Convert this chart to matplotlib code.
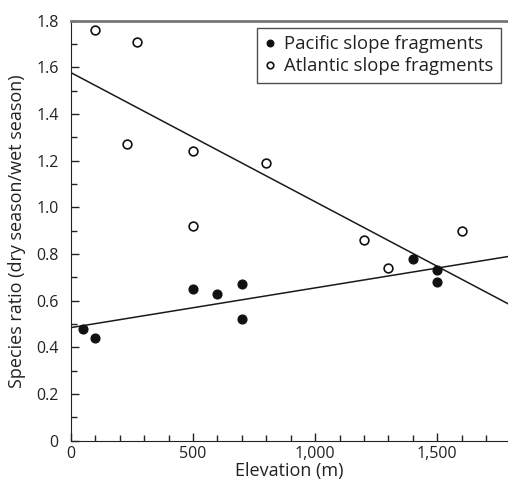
import matplotlib
matplotlib.use("Agg")
import matplotlib.pyplot as plt
import numpy as np
from matplotlib.ticker import MultipleLocator, FuncFormatter

plt.rcParams['font.family'] = ['Open Sans', 'DejaVu Sans']

# Data
pacific_x = [50, 100, 500, 600, 700, 700, 1400, 1500, 1500]
pacific_y = [0.48, 0.44, 0.65, 0.63, 0.67, 0.52, 0.78, 0.73, 0.68]
atlantic_x = [100, 270, 230, 500, 800, 500, 1200, 1300, 1600]
atlantic_y = [1.76, 1.71, 1.27, 1.24, 1.19, 0.92, 0.86, 0.74, 0.90]
# fitted lines: intercept, slope
pacific_fit = (0.485, 0.00017)
atlantic_fit = (1.577, -0.000553)

fig = plt.figure(figsize=(5.08, 4.84), dpi=100)
ax = fig.add_axes([71/508, 1-440.8/484, 1-71/508, (440.8-20.6)/484])

xmax = 1790
ax.set_xlim(0, xmax)
ax.set_ylim(0, 1.8)

xs = np.array([0, xmax])
ax.plot(xs, pacific_fit[0] + pacific_fit[1]*xs, color='#1a1a1a', lw=1.1, zorder=2)
ax.plot(xs, atlantic_fit[0] + atlantic_fit[1]*xs, color='#1a1a1a', lw=1.1, zorder=2)

ax.plot(pacific_x, pacific_y, 'o', ms=6.3, mfc='#111111', mec='#111111',
        linestyle='none', label='Pacific slope fragments', zorder=3)
ax.plot(atlantic_x, atlantic_y, 'o', ms=6.3, mfc='white', mec='#111111', mew=1.2,
        linestyle='none', label='Atlantic slope fragments', zorder=3)

ax.xaxis.set_major_locator(MultipleLocator(500))
ax.xaxis.set_minor_locator(MultipleLocator(100))
ax.yaxis.set_major_locator(MultipleLocator(0.2))
ax.yaxis.set_minor_locator(MultipleLocator(0.1))
ax.xaxis.set_major_formatter(FuncFormatter(lambda v, p: f"{int(v):,}"))
ax.yaxis.set_major_formatter(FuncFormatter(lambda v, p: "0" if abs(v) < 1e-9 else f"{v:.1f}"))

ax.tick_params(which='both', direction='in', colors='#222222', labelsize=11.5, width=1)
ax.tick_params(which='major', length=6)
ax.tick_params(which='minor', length=4)
ax.tick_params(axis='y', pad=9)
ax.tick_params(axis='x', pad=4)

ax.spines['right'].set_visible(False)
ax.spines['top'].set_color('#777777')
ax.spines['top'].set_linewidth(2)
ax.spines['left'].set_color('#222222')
ax.spines['bottom'].set_color('#222222')

ax.set_xlabel('Elevation (m)', fontsize=13, color='#222222', labelpad=0)
ax.set_ylabel('Species ratio (dry season/wet season)', fontsize=13, color='#222222', labelpad=7)

leg = ax.legend(loc='upper right', bbox_to_anchor=(0.997, 0.996), frameon=True, fancybox=False,
                edgecolor='#222222', fontsize=13.3, markerscale=0.75, handlelength=0.6,
                handletextpad=0.5, borderpad=0.4, labelspacing=0.22, borderaxespad=0.3)
leg.get_frame().set_linewidth(1.0)
for t in leg.get_texts():
    t.set_color('#222222')

fig.savefig('out.png', dpi=100)
